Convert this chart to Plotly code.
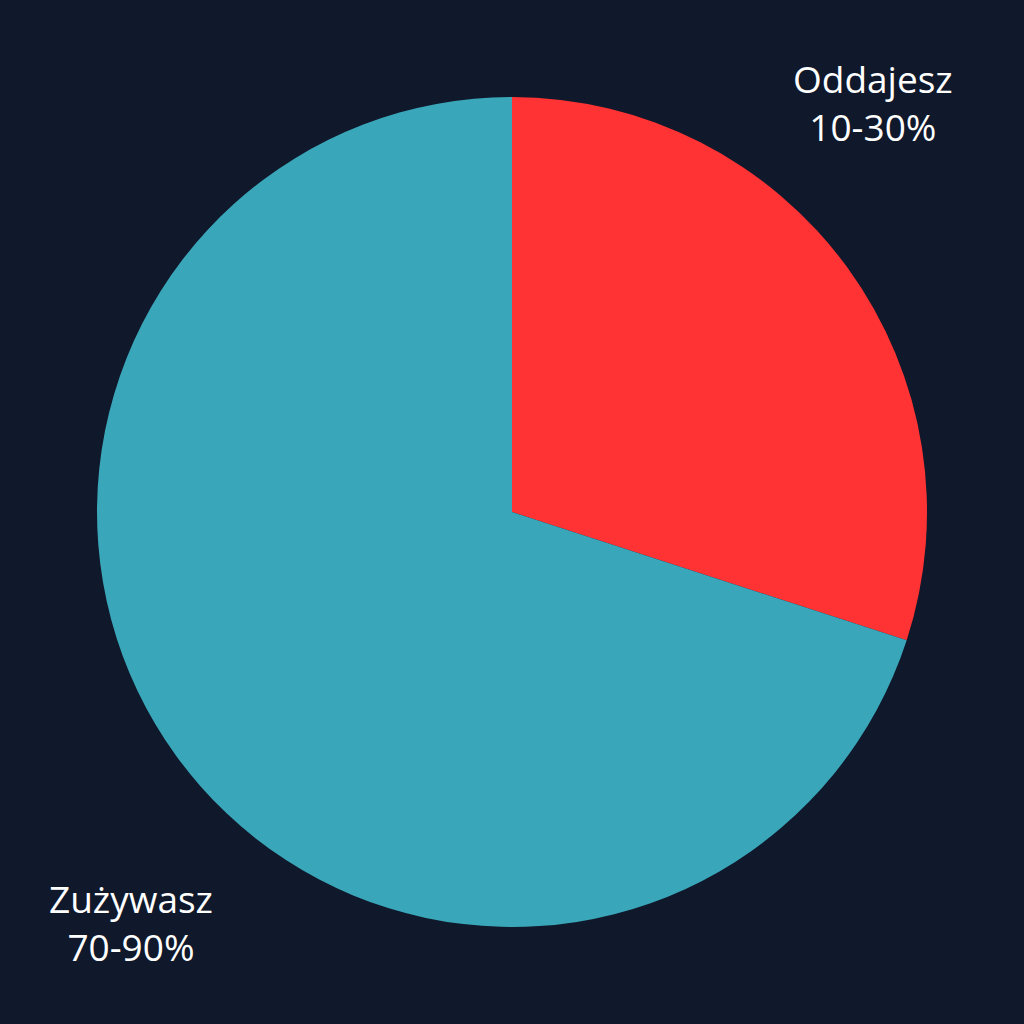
import plotly.graph_objects as go

labels = ["Oddajesz", "Zużywasz"]
values = [30, 70]
ranges = ["10-30%", "70-90%"]
colors = ["#ff3333", "#3aa6b9"]

fig = go.Figure(go.Pie(
    labels=labels,
    values=values,
    marker=dict(colors=colors, line=dict(width=0)),
    sort=False,
    direction="clockwise",
    rotation=0,
    textinfo="none",
    hoverinfo="label+percent",
    showlegend=False,
))

label_pos = [(0.935, 0.993), (0.041, 0.006)]
for lab, rng, (px, py) in zip(labels, ranges, label_pos):
    fig.add_annotation(
        x=px, y=py, xref="paper", yref="paper",
        text=f"{lab}<br>{rng}", showarrow=False,
        xanchor="center", yanchor="middle", align="center",
        font=dict(family="Open Sans", size=37, color="#ffffff"),
    )

fig.update_layout(
    width=1024, height=1024,
    paper_bgcolor="#10182b",
    plot_bgcolor="#10182b",
    margin=dict(l=97, r=97, t=97, b=97),
)

fig.write_html(
    "out.html",
    config={"displayModeBar": False},
    post_script="document.body.style.margin='0';document.body.style.background='#10182b';",
)
